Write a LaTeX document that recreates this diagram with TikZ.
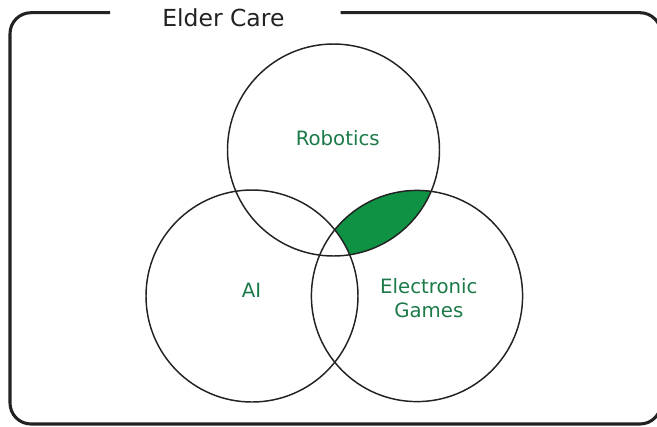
\documentclass[tikz,border=0pt]{standalone}
\usepackage{fontspec}
\setmainfont{DejaVu Sans}
\definecolor{vgreen}{RGB}{16,146,68}
\definecolor{lgreen}{RGB}{27,122,72}
\definecolor{tgray}{RGB}{34,34,34}
\begin{document}
\begin{tikzpicture}[x=0.75pt,y=-0.75pt,
  frame/.style={draw=tgray,line width=2.3pt,rounded corners=15.75pt},
  ring/.style={draw=tgray,line width=1.1pt},
  lbl/.style={text=lgreen,font=\fontsize{14.8pt}{17.5pt}\selectfont,inner sep=0pt,align=center},
  ttl/.style={text=tgray,font=\fontsize{17.6pt}{21pt}\selectfont,inner sep=0pt,anchor=base}]
\useasboundingbox (0,0) rectangle (657,426);
\clip (0,0) rectangle (657,426);
% highlighted region: Robotics and Electronic Games, not AI
\begin{scope}
  \clip (333.5,150) circle[radius=79.5pt];
  \clip (417,296) circle[radius=79.2pt];
  \fill[vgreen] (0,0) rectangle (657,426);
  \fill[white] (252,296) circle[radius=79.5pt];
\end{scope}
\node[ring,circle,minimum size=159pt,inner sep=0pt] (rob) at (333.5,150) {};
\node[ring,circle,minimum size=159pt,inner sep=0pt] (ai) at (252,296) {};
\node[ring,circle,minimum size=158.4pt,inner sep=0pt] (eg) at (417,296) {};
% frame with gap for title
\coordinate (fa) at (110,12.7);
\coordinate (fb) at (340.7,12.7);
\draw[frame] (fa) -- (10,12.7) -- (10,424) -- (661,424) -- (661,12.7) -- (fb);
\node[ttl] (title) at (223.4,26.7) {Elder Care};
\node[lbl,anchor=base] (trob) at (337.7,145) {Robotics};
\node[lbl,anchor=base] (tai) at (251.5,297.7) {AI};
\node[lbl,anchor=center] (teg) at (428.8,298.2) {Electronic\\Games};
\end{tikzpicture}
\end{document}
